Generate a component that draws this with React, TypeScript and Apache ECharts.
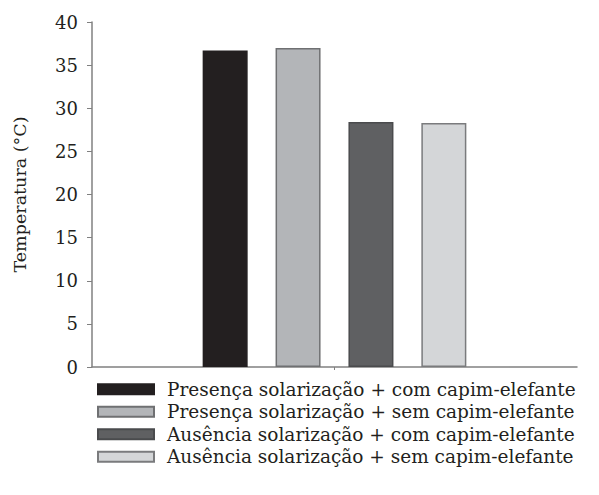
import React, { useEffect, useRef } from "react";
import * as echarts from "echarts";

const categories = ["Tratamentos"];
const seriesNames = [
  "Presença solarização + com capim-elefante",
  "Presença solarização + sem capim-elefante",
  "Ausência solarização + com capim-elefante",
  "Ausência solarização + sem capim-elefante",
];
const seriesValues = [36.7, 37.0, 28.4, 28.3];
const seriesColors = ["#231f20", "#b3b5b8", "#5f6062", "#d4d6d8"];
const seriesBorders = ["#231f20", "#6f7072", "#4a4b4d", "#7a7b7d"];
const yTicks = [0, 5, 10, 15, 20, 25, 30, 35, 40];

export default function App() {
  const ref = useRef<HTMLDivElement>(null);
  useEffect(() => {
    if (!ref.current) return;
    const chart = echarts.init(ref.current, undefined, { renderer: "svg" });
    const font = "DejaVu Serif";
    chart.setOption({
      animation: false,
      backgroundColor: "#ffffff",
      textStyle: { fontFamily: font, color: "#231f20" },
      grid: { left: 92, right: 22, top: 22, bottom: 128, containLabel: false },
      legend: {
        orient: "vertical",
        left: 97,
        top: 378,
        icon: "rect",
        itemWidth: 56,
        itemHeight: 10,
        itemGap: 0,
        padding: 0,
        textStyle: { fontFamily: font, fontSize: 18.5, color: "#231f20", lineHeight: 22.5, padding: [0, 0, 0, 8] },
        data: seriesNames,
      },
      xAxis: {
        type: "category",
        data: categories,
        axisLine: { show: true, lineStyle: { color: "#808080", width: 1.5 } },
        axisTick: { show: true, alignWithLabel: true, length: 3, lineStyle: { color: "#808080" } },
        axisLabel: { show: false },
      },
      yAxis: {
        type: "value",
        min: yTicks[0],
        max: yTicks[yTicks.length - 1],
        interval: 5,
        name: "Temperatura (°C)",
        nameLocation: "middle",
        nameGap: 63,
        nameRotate: 90,
        nameTextStyle: { fontFamily: font, fontSize: 17.5, color: "#231f20" },
        axisLine: { show: true, lineStyle: { color: "#808080", width: 1.5 } },
        axisTick: { show: true, length: 5, lineStyle: { color: "#808080" } },
        axisLabel: { fontFamily: font, fontSize: 18, color: "#231f20", margin: 14 },
        splitLine: { show: false },
      },
      series: seriesNames.map((name, i) => ({
        name,
        type: "bar",
        data: [seriesValues[i]],
        barWidth: 45,
        barGap: "62%",
        itemStyle: { color: seriesColors[i], borderColor: seriesBorders[i], borderWidth: 1.5 },
      })),
    });
    return () => chart.dispose();
  }, []);
  return <div ref={ref} style={{ width: 599, height: 495, margin: -8 }} />;
}
